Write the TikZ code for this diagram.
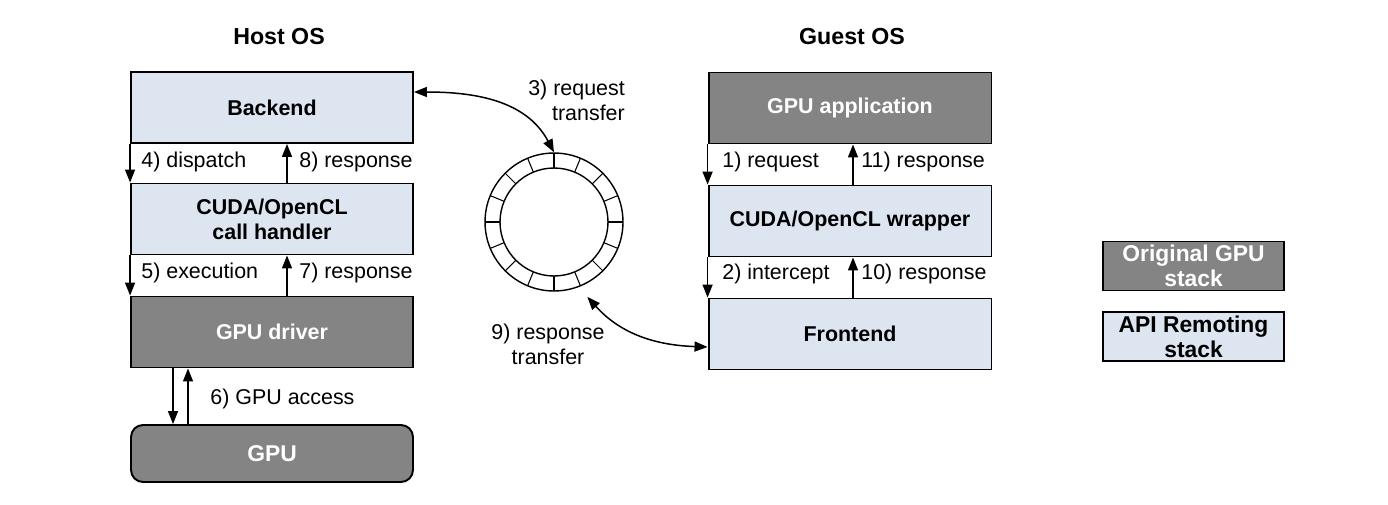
\documentclass[tikz,border=0pt]{standalone}
\usepackage{fontspec}
\setmainfont{Liberation Sans}
\usetikzlibrary{arrows.meta}

\definecolor{apiblue}{RGB}{221,230,240}
\definecolor{stackgray}{RGB}{132,132,132}

\tikzset{
	layer/.style={draw=black,line width=1.1pt,minimum width=5.64cm,minimum height=1.42cm,inner sep=0pt,align=center,font=\fontsize{12.2}{14.2}\selectfont\bfseries},
	apilayer/.style={layer,fill=apiblue},
	gpulayer/.style={layer,fill=stackgray,text=white},
	step label/.style={anchor=west,inner sep=0pt,font=\fontsize{12.2}{14.2}\selectfont},
	title/.style={font=\fontsize{13.2}{15}\selectfont\bfseries},
	legend/.style={draw=black,line width=1.1pt,minimum width=3.62cm,minimum height=0.98cm,inner sep=0pt,align=center,font=\fontsize{13}{14.2}\selectfont\bfseries},
	flow/.style={line width=0.85pt,-{Triangle[length=0.26cm,width=0.2cm]}},
	transfer/.style={line width=0.85pt,{Triangle[length=0.26cm,width=0.2cm]}-{Triangle[length=0.26cm,width=0.2cm]}}
}

\begin{document}
\begin{tikzpicture}[x=0.02cm,y=-0.02cm]
	\useasboundingbox (0,0) rectangle (1388,504);

	% host side
	\node[title] (host) at (279,37) {Host OS};
	\node[apilayer] (backend) at (272,107.5) {Backend};
	\node[apilayer] (handler) at (272,219) {CUDA/OpenCL\\call handler};
	\node[gpulayer] (driver) at (272,332) {GPU driver};
	\node[gpulayer,rounded corners=0.24cm,minimum height=1.14cm,font=\fontsize{13}{15}\selectfont\bfseries] (gpu) at (272,453.5) {GPU};

	\draw[flow] (backend.south west) -- (handler.north west);
	\draw[flow] ([xshift=0.3cm]handler.north) -- ([xshift=0.3cm]backend.south);
	\draw[flow] (handler.south west) -- (driver.north west);
	\draw[flow] ([xshift=0.3cm]driver.north) -- ([xshift=0.3cm]handler.south);
	\draw[flow] ([xshift=-1.98cm]driver.south) -- ([xshift=-1.98cm]gpu.north);
	\draw[flow] ([xshift=-1.68cm]gpu.north) -- ([xshift=-1.68cm]driver.south);

	\node[step label] (l4) at (141,162) {4) dispatch};
	\node[step label] (l8) at (299,162) {8) response};
	\node[step label] (l5) at (141,273) {5) execution};
	\node[step label] (l7) at (299,273) {7) response};
	\node[step label] (l6) at (210,399) {6) GPU access};

	% guest side
	\node[title] (guest) at (852,37) {Guest OS};
	\node[gpulayer,minimum width=5.66cm] (app) at (850,108) {GPU application};
	\node[apilayer,minimum width=5.66cm] (wrapper) at (850,221) {CUDA/OpenCL wrapper};
	\node[apilayer,minimum width=5.66cm] (frontend) at (850,334) {Frontend};

	\draw[flow] (app.south west) -- (wrapper.north west);
	\draw[flow] ([xshift=0.06cm]wrapper.north) -- ([xshift=0.06cm]app.south);
	\draw[flow] (wrapper.south west) -- (frontend.north west);
	\draw[flow] ([xshift=0.06cm]frontend.north) -- ([xshift=0.06cm]wrapper.south);

	\node[step label] (l1) at (722,162) {1) request};
	\node[step label] (l11) at (861,162) {11) response};
	\node[step label] (l2) at (722,274) {2) intercept};
	\node[step label] (l10) at (861,274) {10) response};

	% ring buffer
	\node[circle,draw,line width=0.8pt,minimum size=2.76cm,inner sep=0pt] (ring) at (554,222) {};
	\node[circle,draw,line width=0.8pt,minimum size=2.16cm,inner sep=0pt] (ringin) at (554,222) {};
	\foreach \a in {0,22.5,...,337.5}
		\draw[line width=0.6pt] (ring.center) ++(\a:1.08cm) -- ++(\a:0.3cm);
	\coordinate (ringport) at ([shift={(-66:1.64cm)}]ring.center);

	\draw[transfer] ([yshift=0.31cm]backend.east) to[out=0,in=118] (ring.north);
	\draw[transfer] ([yshift=-0.26cm]frontend.west) to[out=178,in=-48] (ringport);
	\node[align=right,anchor=east,font=\fontsize{12.2}{14.2}\selectfont] (l3) at (631,100.5) {3) request\\transfer};
	\node[align=center,font=\fontsize{12.2}{14.2}\selectfont] (l9) at (548,344) {9) response\\transfer};

	% legend
	\node[legend,fill=stackgray,text=white] (korig) at (1193.5,266) {Original GPU\\stack};
	\node[legend,fill=apiblue] (kapi) at (1193.5,336.5) {API Remoting\\stack};
\end{tikzpicture}
\end{document}
